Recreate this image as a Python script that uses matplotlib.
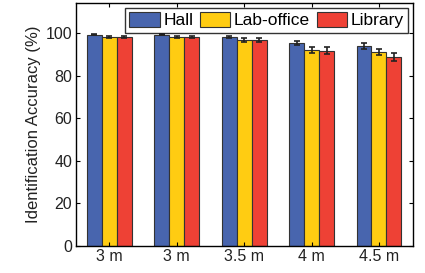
import numpy as np
import matplotlib.pyplot as plt

plt.rcParams['font.family'] = ['Liberation Sans', 'DejaVu Sans']

labels = ['3 m', '3 m', '3.5 m', '4 m', '4.5 m']
series = ['Hall', 'Lab-office', 'Library']
hall = [99.3, 99.3, 98.0, 95.2, 94.0]
lab = [98.0, 98.0, 96.8, 92.1, 91.1]
library = [98.0, 98.0, 96.8, 91.8, 88.8]
hall_err = [0.3, 0.3, 0.4, 1.0, 1.3]
lab_err = [0.4, 0.4, 0.9, 1.3, 1.5]
library_err = [0.4, 0.4, 0.9, 1.8, 1.8]
colors = ['#4865AE', '#FFCC12', '#EE4135']

fig = plt.figure(figsize=(4.25, 2.73), dpi=100)
ax = fig.add_axes([0.178, 0.099, 0.793, 0.889])

x = np.arange(1, len(labels) + 1)
w = 0.222
vals = [hall, lab, library]
errs = [hall_err, lab_err, library_err]
for i in range(3):
    ax.bar(x + (i - 1) * w, vals[i], w, color=colors[i], edgecolor='#333333',
           linewidth=0.8, label=series[i],
           yerr=errs[i], error_kw=dict(ecolor='#222222', elinewidth=1.2, capsize=2.5, capthick=1.2))

ax.set_xlim(0.5, 5.5)
ax.set_ylim(0, 114)
ax.set_xticks(x)
ax.set_xticklabels(labels, fontsize=11.5, color='#222222')
ax.set_yticks([0, 20, 40, 60, 80, 100])
ax.tick_params(axis='y', labelsize=11.5, labelcolor='#222222')
ax.tick_params(direction='in', top=True, right=True, length=3, width=0.8, pad=2.5)
for s in ax.spines.values():
    s.set_linewidth(1.0)
ax.set_ylabel('Identification Accuracy (%)', fontsize=12, color='#222222', labelpad=3)

leg = ax.legend(loc='upper right', ncol=3, fontsize=12.5, frameon=True, fancybox=False,
                edgecolor='black', handlelength=1.75, handleheight=0.95,
                handletextpad=0.2, columnspacing=0.4, borderpad=0.25,
                borderaxespad=0.25)
leg.get_frame().set_linewidth(1.0)

fig.savefig('out.png', dpi=100)
